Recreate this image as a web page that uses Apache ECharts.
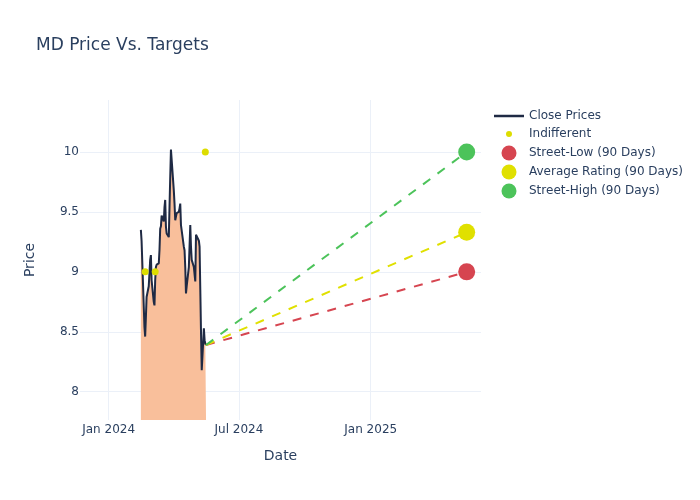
<!DOCTYPE html>
<html>
<head>
<meta charset="utf-8">
<script src="https://cdn.jsdelivr.net/npm/echarts@6/dist/echarts.min.js"></script>
<style>html,body{margin:0;padding:0;background:#fff}#c{width:700px;height:500px}</style>
</head>
<body>
<div id="c"></div>
<script>
const closeDates = [
 '2024-02-15','2024-02-16','2024-02-20','2024-02-21','2024-02-22','2024-02-23','2024-02-26','2024-02-27','2024-02-28','2024-02-29',
 '2024-03-01','2024-03-04','2024-03-05','2024-03-06','2024-03-07','2024-03-08','2024-03-11','2024-03-12','2024-03-13','2024-03-14',
 '2024-03-15','2024-03-18','2024-03-19','2024-03-20','2024-03-21','2024-03-22','2024-03-25','2024-03-26','2024-03-27','2024-03-28',
 '2024-04-01','2024-04-02','2024-04-03','2024-04-04','2024-04-05','2024-04-08','2024-04-09','2024-04-10','2024-04-11','2024-04-12',
 '2024-04-15','2024-04-16','2024-04-17','2024-04-18','2024-04-19','2024-04-22','2024-04-23','2024-04-24','2024-04-25','2024-04-26',
 '2024-04-29','2024-04-30','2024-05-01','2024-05-02','2024-05-03','2024-05-06','2024-05-07','2024-05-08','2024-05-09','2024-05-10',
 '2024-05-13','2024-05-14','2024-05-15','2024-05-16'
];
const closeValues = [
 9.35,9.26,8.54,8.46,8.62,8.79,8.88,8.99,9.10,9.14,
 8.93,8.75,8.72,8.93,9.04,9.06,9.07,9.18,9.36,9.38,
 9.47,9.42,9.54,9.60,9.38,9.32,9.29,9.54,9.79,10.02,
 9.68,9.57,9.43,9.42,9.49,9.50,9.53,9.57,9.39,9.38,
 9.21,9.18,9.04,8.82,8.88,9.04,9.03,9.39,9.21,9.10,
 9.04,9.03,8.92,9.31,9.32,9.26,9.21,8.85,8.49,8.18,
 8.53,8.43,8.40,8.39
];
const indifferentDates = ['2024-02-21','2024-03-06','2024-05-15'];
const indifferentValues = [9.0, 9.0, 10.0];
const targetDate = '2025-05-15';
const targetNames = ['Street-Low (90 Days)','Average Rating (90 Days)','Street-High (90 Days)'];
const targetValues = [9.0, 9.33, 10.0];
const targetColors = ['#D64550','#E0E000','#4CC35A'];
const yTicks = [8, 8.5, 9, 9.5, 10];
const xTicks = ['2024-01-01','2024-07-01','2025-01-01'];

const textColor = '#2a3f5f';
const font = 'DejaVu Sans';
const gridColor = '#EBF0F8';
const lineColor = '#1f2a44';
const monthNames = ['Jan','Feb','Mar','Apr','May','Jun','Jul','Aug','Sep','Oct','Nov','Dec'];
const toTime = d => Date.UTC(+d.slice(0,4), +d.slice(5,7) - 1, +d.slice(8,10));
const xTickTimes = xTicks.map(toTime);

const lastDate = closeDates[closeDates.length - 1];
const lastClose = closeValues[closeValues.length - 1];

const series = [
  {
    name: 'Close Prices', type: 'line', symbol: 'none', z: 3,
    data: closeDates.map((d, i) => [toTime(d), closeValues[i]]),
    lineStyle: { color: lineColor, width: 2 },
    itemStyle: { color: lineColor },
    areaStyle: { color: '#F9BF9B', opacity: 1, origin: 'start' }
  },
  {
    name: 'Indifferent', type: 'scatter', symbol: 'circle', symbolSize: 7, z: 5,
    data: indifferentDates.map((d, i) => [toTime(d), indifferentValues[i]]),
    itemStyle: { color: '#DDDD00', opacity: 1 }
  }
];
targetNames.forEach((n, i) => {
  series.push({
    name: '_dash' + i, type: 'line', symbol: 'none', z: 4,
    data: [[toTime(lastDate), lastClose], [toTime(targetDate), targetValues[i]]],
    lineStyle: { color: targetColors[i], width: 2, type: [9, 9] }
  });
});
targetNames.forEach((n, i) => {
  series.push({
    name: n, type: 'scatter', symbol: 'circle', symbolSize: 17, z: 6,
    data: [[toTime(targetDate), targetValues[i]]],
    itemStyle: { color: targetColors[i], opacity: 1 }
  });
});

const legendText = { color: textColor, fontFamily: font, fontSize: 12 };
const option = {
  animation: false,
  backgroundColor: '#fff',
  title: {
    text: 'MD Price Vs. Targets', left: 36, top: 37, padding: 0,
    textStyle: { color: textColor, fontFamily: font, fontSize: 17, fontWeight: 'normal' }
  },
  legend: [
    { data: [{ name: 'Close Prices', icon: 'rect', itemStyle: { color: lineColor } }], left: 494, top: 110, padding: 0,
      orient: 'vertical', itemWidth: 30, itemHeight: 2.5, textStyle: legendText },
    { data: [{ name: 'Indifferent', icon: 'circle' }], left: 506, top: 128, padding: 0,
      orient: 'vertical', itemWidth: 30, itemHeight: 6, textStyle: legendText },
    { data: targetNames.map(n => ({ name: n, icon: 'circle' })), left: 501.5, top: 145.5, padding: 0,
      orient: 'vertical', itemWidth: 30, itemHeight: 15, itemGap: 4, textStyle: legendText }
  ],
  grid: { left: 80, right: 219, top: 100, bottom: 80, containLabel: false },
  xAxis: {
    type: 'value',
    min: toTime('2023-11-22'), max: toTime('2025-06-04'),
    name: 'Date', nameLocation: 'middle', nameGap: 29,
    nameTextStyle: { color: textColor, fontFamily: font, fontSize: 14 },
    axisLine: { show: false },
    axisTick: { show: false, customValues: xTickTimes },
    axisLabel: {
      customValues: xTickTimes, margin: 4, color: textColor, fontFamily: font, fontSize: 12,
      formatter: v => { const d = new Date(v); return monthNames[d.getUTCMonth()] + ' ' + d.getUTCFullYear(); }
    },
    splitLine: { show: true, lineStyle: { color: gridColor, width: 1 } }
  },
  yAxis: {
    type: 'value', min: 7.764, max: 10.434,
    name: 'Price', nameLocation: 'middle', nameGap: 43,
    nameTextStyle: { color: textColor, fontFamily: font, fontSize: 14 },
    axisLine: { show: false },
    axisTick: { show: false, customValues: yTicks },
    axisLabel: { customValues: yTicks, margin: 1, color: textColor, fontFamily: font, fontSize: 12 },
    splitLine: { show: true, lineStyle: { color: gridColor, width: 1 } }
  },
  series: series
};
const chart = echarts.init(document.getElementById('c'), null, { renderer: 'canvas' });
chart.setOption(option);
</script>
</body>
</html>
